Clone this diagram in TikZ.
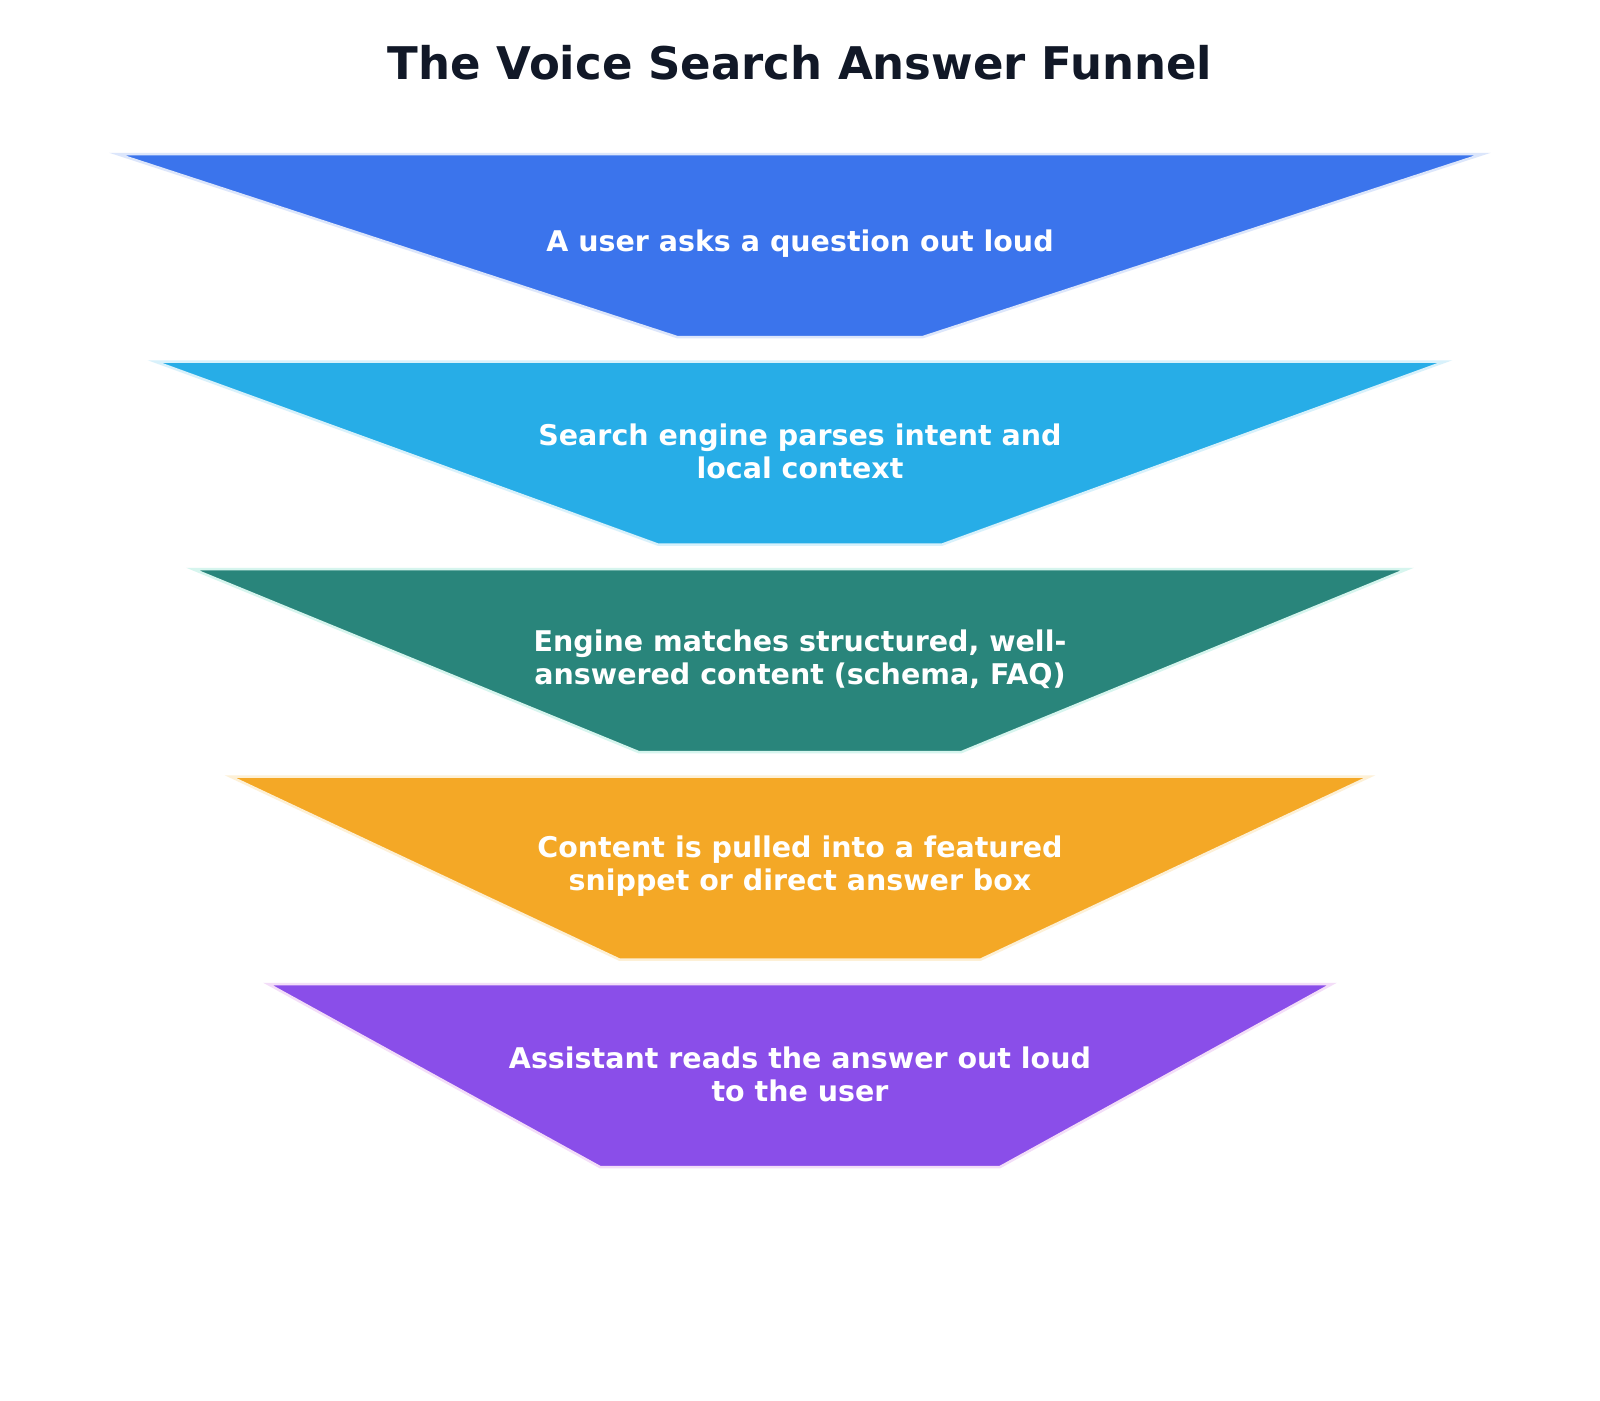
\documentclass[tikz,border=0pt]{standalone}
\usepackage{fontspec}
\setmainfont{DejaVu Sans}
\definecolor{titlec}{HTML}{111827}
\definecolor{c1}{HTML}{3B74EC}
\definecolor{c2}{HTML}{27ADE7}
\definecolor{c3}{HTML}{29857B}
\definecolor{c4}{HTML}{F4A826}
\definecolor{c5}{HTML}{8A4EE9}
\definecolor{e1}{HTML}{DCE6FB}
\definecolor{e2}{HTML}{D8F1FB}
\definecolor{e3}{HTML}{D6F5EE}
\definecolor{e4}{HTML}{FDF0D6}
\definecolor{e5}{HTML}{F3DDF8}
\tikzset{
  stagetext/.style={text=white, align=center, font=\bfseries\fontsize{28.5}{33}\selectfont, inner sep=0pt},
  titletext/.style={text=titlec, font=\bfseries\fontsize{45}{54}\selectfont, inner sep=0pt},
}
\begin{document}
\begin{tikzpicture}[x=1pt,y=-1pt]
\useasboundingbox (0,0) rectangle (1600,1400);
\fill[white] (0,0) rectangle (1600,1400);
\node[titletext] (title) at (800,63) {The Voice Search Answer Funnel};
\foreach \i/\fc/\ec/\txt in {
  0/c1/e1/{A user asks a question out loud},
  1/c2/e2/{Search engine parses intent and\\local context},
  2/c3/e3/{Engine matches structured, well-\\answered content (schema, FAQ)},
  3/c4/e4/{Content is pulled into a featured\\snippet or direct answer box},
  4/c5/e5/{Assistant reads the answer out loud\\to the user}}{
  \pgfmathsetmacro{\ty}{154+207.5*\i}
  \pgfmathsetmacro{\by}{\ty+183}
  \pgfmathsetmacro{\th}{683-37.75*\i}
  \pgfmathsetmacro{\bh}{123+19.25*\i}
  \path[fill=\fc, draw=\ec, line width=2.5pt, line join=miter]
    (800-\th,\ty) -- (800+\th,\ty) -- (800+\bh,\by) -- (800-\bh,\by) -- cycle;
  \node[stagetext] (stage\i) at (800,\ty+90) {\txt};
}
\end{tikzpicture}
\end{document}
